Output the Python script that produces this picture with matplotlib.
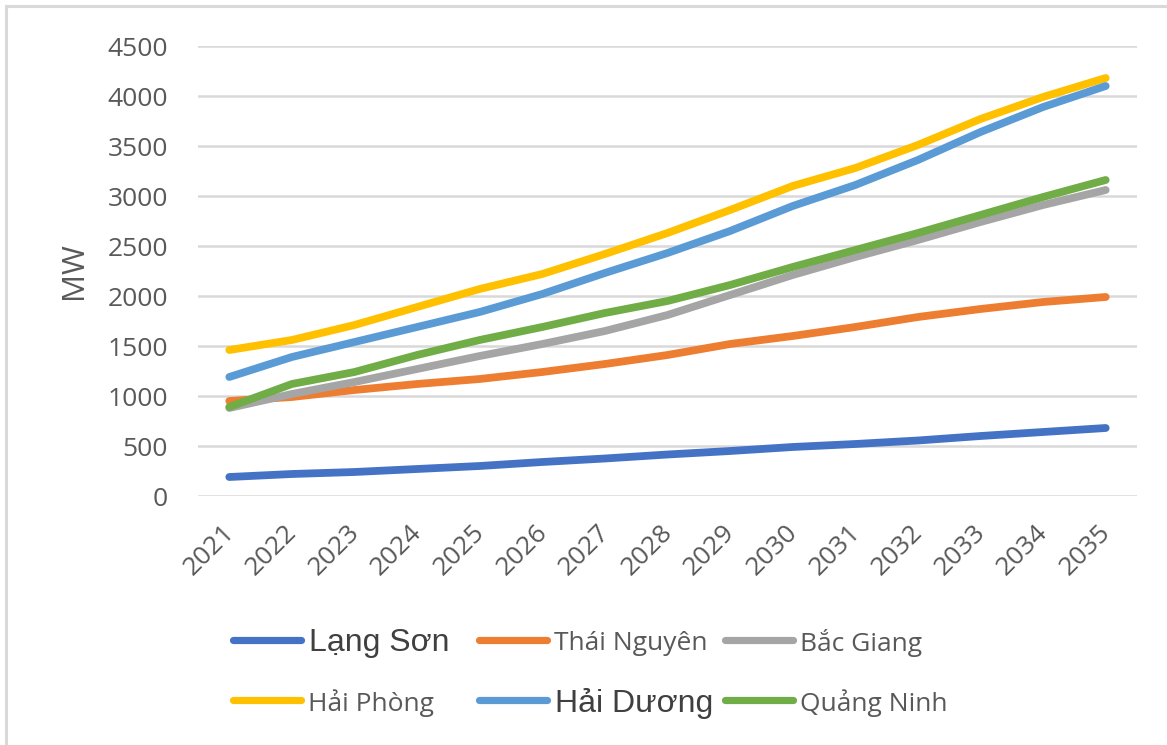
import matplotlib
matplotlib.use("Agg")
import matplotlib.pyplot as plt
from matplotlib.lines import Line2D
from matplotlib.transforms import ScaledTranslation

# Forecast peak load by province (MW)
years = [str(y) for y in range(2021, 2036)]
lang_son = [190, 220, 240, 270, 300, 340, 375, 415, 450, 490, 520, 555, 600, 640, 680]
thai_nguyen = [950, 990, 1060, 1120, 1170, 1240, 1320, 1410, 1520, 1600, 1690, 1790, 1870, 1940, 1990]
bac_giang = [880, 1020, 1140, 1270, 1400, 1520, 1650, 1810, 2010, 2210, 2390, 2560, 2740, 2910, 3060]
hai_phong = [1460, 1560, 1710, 1890, 2070, 2220, 2420, 2630, 2860, 3100, 3280, 3510, 3770, 3990, 4180]
hai_duong = [1190, 1390, 1540, 1690, 1840, 2020, 2230, 2430, 2650, 2900, 3110, 3360, 3640, 3890, 4100]
quang_ninh = [890, 1120, 1240, 1410, 1560, 1690, 1830, 1950, 2110, 2290, 2460, 2630, 2810, 2990, 3160]

names = ["Lạng Sơn", "Thái Nguyên", "Bắc Giang", "Hải Phòng", "Hải Dương", "Quảng Ninh"]
series = [lang_son, thai_nguyen, bac_giang, hai_phong, hai_duong, quang_ninh]
colors = ["#4472C4", "#ED7D31", "#A5A5A5", "#FFC000", "#5B9BD5", "#70AD47"]
yticks = list(range(0, 4501, 500))

W, H = 1167, 745
fig = plt.figure(figsize=(W / 100, H / 100), dpi=100)
fig.patch.set_facecolor("white")

def fx(px):
    return px / W

def fy(py):
    return 1 - py / H

ax = fig.add_axes([fx(198), fy(496), fx(1137) - fx(198), fy(46) - fy(496)])

x = list(range(len(years)))
for vals, c in zip(series, colors):
    ax.plot(x, vals, color=c, lw=5.6, solid_capstyle="round", solid_joinstyle="round", zorder=3)

ax.set_xlim(-0.5, len(years) - 0.5)
ax.set_ylim(0, 4500)
ax.set_yticks(yticks)
ax.set_xticks(x)
ax.set_xticklabels(years)
for s in ax.spines.values():
    s.set_visible(False)
ax.grid(axis="y", color="#D9D9D9", lw=1.8, zorder=0)
ax.tick_params(axis="both", length=0, colors="#595959", labelsize=19)
ax.tick_params(axis="y", pad=21.5)
ax.tick_params(axis="x", pad=17)
for lab in ax.get_yticklabels() + ax.get_xticklabels():
    lab.set_fontfamily("Open Sans")
for lab in ax.get_xticklabels():
    lab.set_rotation(45)
    lab.set_ha("right")
    lab.set_va("top")
    lab.set_transform(lab.get_transform() + ScaledTranslation(10 / 100, 0, fig.dpi_scale_trans))

fig.text(fx(74), fy(271), "MW", rotation=90, ha="center", va="center",
         fontsize=22.5, color="#595959", family="Open Sans")

# Legend laid out on a 3-column grid
col_x = [230, 476, 722]
row_y = [640, 700]
big = {"Lạng Sơn", "Hải Dương"}
for i, (name, c) in enumerate(zip(names, colors)):
    x0 = col_x[i % 3]
    y0 = row_y[i // 3]
    fig.add_artist(Line2D([fx(x0 + 3), fx(x0 + 71)], [fy(y0), fy(y0)], color=c, lw=5.2,
                          solid_capstyle="round", transform=fig.transFigure))
    if name in big:
        fig.text(fx(x0 + 79), fy(y0), name, ha="left", va="center_baseline",
                 fontsize=23, color="#404040", family="Liberation Sans")
    else:
        fig.text(fx(x0 + 78), fy(y0), name, ha="left", va="center_baseline",
                 fontsize=19, color="#595959", family="Open Sans")

# Frame edges
fig.add_artist(Line2D([fx(6), fx(6)], [fy(6), 0], color="#D9D9D9", lw=2.2, transform=fig.transFigure))
fig.add_artist(Line2D([fx(6), 1], [fy(6), fy(6)], color="#D9D9D9", lw=2.2, transform=fig.transFigure))

fig.savefig("out.png", dpi=100, facecolor="white")
